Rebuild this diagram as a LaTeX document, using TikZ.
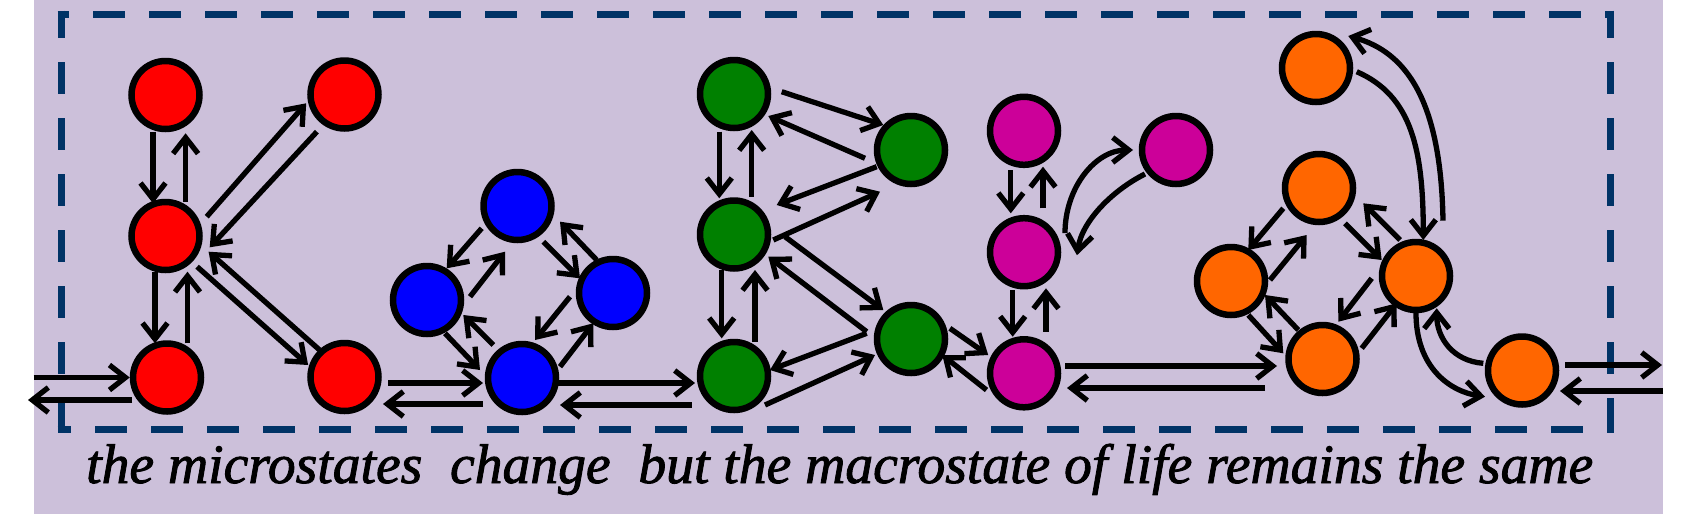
\documentclass[tikz,border=0pt]{standalone}
\usepackage{fontspec}
\usepackage{graphicx}
\setmainfont{Liberation Serif}[ItalicFeatures={FakeBold=1.6}]
\usetikzlibrary{arrows.meta,calc}
\definecolor{bgcol}{HTML}{CCC0DA}
\definecolor{navy}{HTML}{003366}
\definecolor{redn}{HTML}{FF0000}
\definecolor{bluen}{HTML}{0000FF}
\definecolor{greenn}{HTML}{008000}
\definecolor{magn}{HTML}{CC0099}
\definecolor{orangen}{HTML}{FF6600}
\tikzset{
  st/.style={circle, draw=black, line width=6.5pt, minimum size=68pt, inner sep=0pt, fill=#1},
  arr/.style={line width=5.3pt, -{Straight Barb[length=16pt,width=25pt]}},
  frame/.style={navy, line width=7pt, dash pattern=on 32pt off 24pt},
}
\newcommand\lk[4]{\draw[arr] ($(#1)+(#2)$) -- ($(#3)+(#4)$);}
\begin{document}
\begin{tikzpicture}[x=1pt,y=-1pt]
\useasboundingbox (0,0) rectangle (1690,523);
\fill[bgcol] (33.5,0) rectangle (1663,514);
% dashed frame
\draw[frame, dash phase=4.5pt] (61,10.5) -- (61,432.5);
\draw[frame, dash phase=20.5pt] (57.5,14) -- (1613.5,14);
\draw[frame, dash phase=4.5pt] (1610,10.5) -- (1610,432.5);
\draw[frame, dash phase=18.5pt] (57.5,429) -- (1613.5,429);
% nodes
\node[st=redn] (R1) at (165.5,95) {};
\node[st=redn] (R2) at (344.5,94.5) {};
\node[st=redn] (R3) at (165.5,236) {};
\node[st=redn] (R4) at (167,377.5) {};
\node[st=redn] (R5) at (344.5,377) {};
\node[st=bluen] (B1) at (517.5,206) {};
\node[st=bluen] (B2) at (427,300) {};
\node[st=bluen] (B3) at (613,293) {};
\node[st=bluen] (B4) at (522,378) {};
\node[st=greenn] (G1) at (734,94) {};
\node[st=greenn] (G2) at (911,150) {};
\node[st=greenn] (G3) at (734,234.5) {};
\node[st=greenn] (G4) at (734,376) {};
\node[st=greenn] (G5) at (911,339) {};
\node[st=magn] (M1) at (1024,130.8) {};
\node[st=magn] (M2) at (1024,252.2) {};
\node[st=magn] (M3) at (1024,373.3) {};
\node[st=magn] (M4) at (1176,150) {};
\node[st=orangen] (O1) at (1316,68) {};
\node[st=orangen] (O2) at (1319,188) {};
\node[st=orangen] (O3) at (1231,281) {};
\node[st=orangen] (O4) at (1416,276) {};
\node[st=orangen] (O5) at (1322.5,359) {};
\node[st=orangen] (O6) at (1522,370.5) {};
\coordinate (inL) at (33.5,377.5);
\coordinate (outL) at (28,400);
\coordinate (outR) at (1662,365);
\coordinate (inR) at (1663,391);
% K
\lk{R1}{-12.5,36.7}{R3}{-12.5,-32.7}
\lk{R3}{20.1,-34.3}{R1}{20.1,38.3}
\lk{R3}{-10.5,35.7}{R4}{-12,-34.2}
\lk{R4}{20.5,-34.2}{R3}{22,35.7}
\lk{R3}{41.2,-19.3}{R2}{-38.3,8.8}
\lk{R2}{-27.6,37.2}{R3}{44.2,11.3}
\lk{R3}{31.6,30.7}{R5}{-36.4,-12}
\lk{R5}{-24.9,-27}{R3}{43.1,15.7}
\draw[arr] (inL) -- (R4.west);
\draw[arr] ($(R4)+(-35,22.5)$) -- (outL);
\lk{R5}{43.5,6}{B4}{-39,5}
\lk{B4}{-39,26}{R5}{38.5,27}
% blue
\lk{B1}{-35.8,22.3}{B2}{19.7,-31.7}
\lk{B2}{43,-3.3}{B1}{-12.5,45.7}
\lk{B1}{25.8,35.7}{B3}{-33,-14.7}
\lk{B3}{-16.3,-33}{B1}{42.5,15.7}
\lk{B2}{18,33.3}{B4}{-42,-8}
\lk{B4}{-28.7,-33}{B2}{36.3,15}
\lk{B3}{-43,3.7}{B4}{13,-38}
\lk{B4}{38,-11.3}{B3}{-19.7,30.3}
\lk{B4}{36,5}{G4}{-39,7}
\lk{G4}{-42.4,29}{B4}{38,27}
% green
\lk{G1}{-14.7,37.7}{G3}{-14.7,-36.2}
\lk{G3}{17.7,-37.8}{G1}{17.7,36}
\lk{G3}{-12.3,35.5}{G4}{-12.3,-37.7}
\lk{G4}{21,-34.3}{G3}{21,35.5}
\lk{G1}{47.7,-2.3}{G2}{-27.7,-25}
\lk{G2}{-46,8.3}{G1}{34.3,22}
\lk{G2}{-34.3,16.7}{G3}{42.7,-29.5}
\lk{G3}{39.3,5.5}{G2}{-31,41.7}
\lk{G3}{51,2.2}{G5}{-27.7,-29}
\lk{G5}{-44.3,-7.3}{G3}{34.3,22.2}
\lk{G5}{-44.3,-5.7}{G4}{36,-6}
\lk{G4}{31,29}{G5}{-36,16}
\lk{G5}{38.9,-10.7}{M3}{-35.8,-18.3}
\lk{M3}{-37.5,16.7}{G5}{31.3,16}
% magenta
\lk{M1}{-13.2,39.2}{M2}{-13.2,-38.9}
\lk{M2}{19,-43.9}{M1}{19,35.9}
\lk{M2}{-11.3,37.8}{M3}{-11.3,-36.6}
\lk{M3}{22,-41.6}{M2}{22,36.1}
\draw[arr] ($(M2)+(41,-19)$) .. controls ($(M2)+(41,-64.7)$) and ($(M4)+(-80.6,0)$) .. ($(M4)+(-43,0)$);
\draw[arr] ($(M4)+(-31,24)$) .. controls ($(M4)+(-62.5,39.75)$) and ($(M2)+(58,-31.8)$) .. ($(M2)+(53,3)$);
\lk{M3}{41,-7.3}{O5}{-45.5,7}
\lk{O5}{-57.5,29}{M3}{43,14.7}
% orange
\lk{O2}{-35.7,20.3}{O3}{17.3,-31}
\lk{O3}{39,-1}{O2}{-12.3,47}
\lk{O2}{26,35.3}{O4}{-34.3,-16}
\lk{O4}{-16,-36}{O2}{44.3,15.3}
\lk{O3}{17.3,34}{O5}{-39.2,-5.7}
\lk{O5}{-24.2,-29}{O3}{34,14}
\lk{O4}{-44.3,2.3}{O5}{15.8,-37.3}
\lk{O5}{39.2,-10.7}{O4}{-19.3,27.3}
\draw[arr] ($(O4)+(27,-55.3)$) .. controls ($(O4)+(25,-176)$) and ($(O1)+(90,-16)$) .. ($(O1)+(32.3,-32)$);
\draw[arr] ($(O1)+(40.7,3.7)$) .. controls ($(O1)+(96,27.7)$) and ($(O4)+(7.3,-126)$) .. ($(O4)+(7.3,-36)$);
\draw[arr] ($(O4)+(0,37)$) .. controls ($(O4)+(0,92)$) and ($(O6)+(-71.6,21)$) .. ($(O6)+(-37,26.2)$);
\draw[arr] ($(O6)+(-38.7,-7.2)$) .. controls ($(O6)+(-69,-9.5)$) and ($(O4)+(20.7,62)$) .. ($(O4)+(20.7,32.3)$);
\draw[arr] ($(O6)+(43,-5.5)$) -- (outR);
\draw[arr] (inR) -- ($(O6)+(38,20.5)$);
% caption
\node[anchor=base west, inner sep=0pt] (cap) at (86,483) {\resizebox{1507pt}{!}{\fontsize{40}{48}\selectfont\itshape the microstates\ \ change\ \ but the macrostate of life remains the same}};
\end{tikzpicture}
\end{document}
